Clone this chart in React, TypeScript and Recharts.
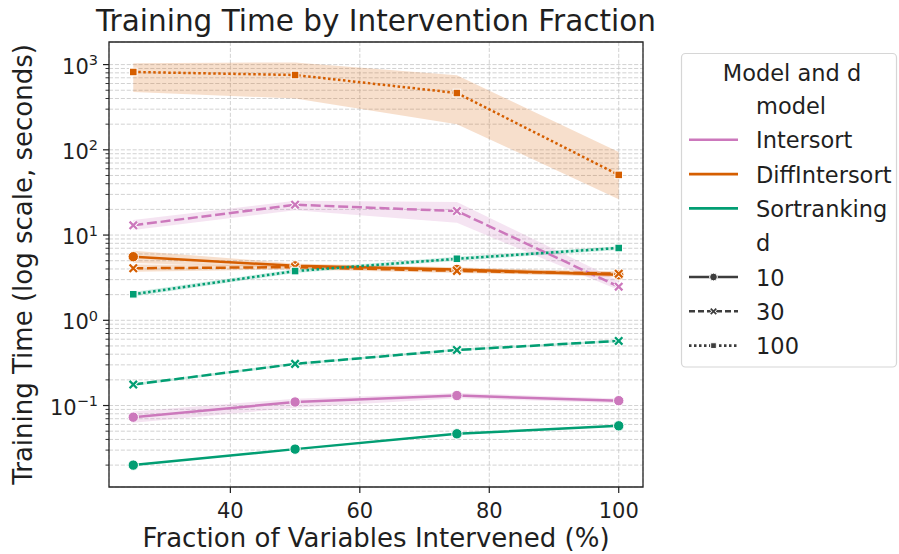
import React from 'react';
import {
  ComposedChart,
  Line,
  Area,
  XAxis,
  YAxis,
  CartesianGrid,
  ReferenceArea,
} from 'recharts';

// Fraction of variables intervened (%)
const fractions = [25, 50, 75, 100];

// Mean training time (seconds) and confidence band per model / d
const intersortD10 = [0.073, 0.11, 0.131, 0.114];
const intersortD10Lo = [0.063, 0.094, 0.122, 0.106];
const intersortD10Hi = [0.085, 0.12, 0.14, 0.121];

const intersortD30 = [13.0, 22.7, 19.1, 2.48];
const intersortD30Lo = [11.5, 19.6, 13.9, 2.27];
const intersortD30Hi = [15.0, 25.2, 24.5, 2.92];

const diffD10 = [5.57, 4.35, 3.95, 3.42];
const diffD10Lo = [4.7, 4.1, 3.7, 3.2];
const diffD10Hi = [6.55, 4.65, 4.2, 3.65];

const diffD30 = [4.08, 4.2, 3.8, 3.52];
const diffD30Lo = [3.7, 3.95, 3.6, 3.3];
const diffD30Hi = [4.5, 4.45, 4.05, 3.75];

const diffD100 = [819, 755, 464, 50.8];
const diffD100Lo = [477, 400, 200, 26.4];
const diffD100Hi = [1040, 1060, 752, 94];

const sortD10 = [0.02, 0.0308, 0.0466, 0.0578];
const sortD10Lo = [0.0196, 0.0302, 0.0457, 0.0566];
const sortD10Hi = [0.0204, 0.0314, 0.0475, 0.059];

const sortD30 = [0.176, 0.308, 0.449, 0.572];
const sortD30Lo = [0.17, 0.298, 0.435, 0.554];
const sortD30Hi = [0.182, 0.318, 0.463, 0.59];

const sortD100 = [2.02, 3.78, 5.27, 7.05];
const sortD100Lo = [1.9, 3.6, 5.0, 6.7];
const sortD100Hi = [2.15, 3.97, 5.55, 7.4];

const xTicks = [40, 60, 80, 100];
const X_MIN = 21.25;
const X_MAX = 103.75;
const Y_MIN = 0.01107;
const Y_MAX = 1841;

// Major (powers of ten) and minor log ticks inside the y range
const yTicks: number[] = [];
for (let k = -2; k <= 3; k++) {
  for (let m = 1; m <= 9; m++) {
    const v = Number((m * Math.pow(10, k)).toPrecision(3));
    if (v >= Y_MIN && v <= Y_MAX) yTicks.push(v);
  }
}

const PINK = '#cc78bc';
const ORANGE = '#d55e00';
const GREEN = '#029e73';
const INK = '#1f1f1f';
const FONT = "'DejaVu Sans', sans-serif";

type Marker = 'circle' | 'x' | 'square';

interface SeriesDef {
  key: string;
  color: string;
  mean: number[];
  lo: number[];
  hi: number[];
  marker: Marker;
  dash?: string;
}

const DASH_30 = '10 3.75';
const DOT_100 = '2.5 2.5';

const series: SeriesDef[] = [
  { key: 'i10', color: PINK, mean: intersortD10, lo: intersortD10Lo, hi: intersortD10Hi, marker: 'circle' },
  { key: 'i30', color: PINK, mean: intersortD30, lo: intersortD30Lo, hi: intersortD30Hi, marker: 'x', dash: DASH_30 },
  { key: 'f10', color: ORANGE, mean: diffD10, lo: diffD10Lo, hi: diffD10Hi, marker: 'circle' },
  { key: 'f30', color: ORANGE, mean: diffD30, lo: diffD30Lo, hi: diffD30Hi, marker: 'x', dash: DASH_30 },
  { key: 'f100', color: ORANGE, mean: diffD100, lo: diffD100Lo, hi: diffD100Hi, marker: 'square', dash: DOT_100 },
  { key: 's10', color: GREEN, mean: sortD10, lo: sortD10Lo, hi: sortD10Hi, marker: 'circle' },
  { key: 's30', color: GREEN, mean: sortD30, lo: sortD30Lo, hi: sortD30Hi, marker: 'x', dash: DASH_30 },
  { key: 's100', color: GREEN, mean: sortD100, lo: sortD100Lo, hi: sortD100Hi, marker: 'square', dash: DOT_100 },
];

const rows = fractions.map((x, i) => {
  const row: Record<string, any> = { x };
  series.forEach((s) => {
    row[s.key] = s.mean[i];
    row[s.key + 'Band'] = [s.lo[i], s.hi[i]];
  });
  return row;
});

function markerShape(kind: Marker, cx: number, cy: number, color: string, key?: string | number, scale = 1, edge = '#ffffff') {
  if (kind === 'circle') {
    return <circle key={key} cx={cx} cy={cy} r={5.2 * scale} fill={color} stroke={edge} strokeWidth={1} />;
  }
  if (kind === 'square') {
    const h = 3.8 * scale;
    return <rect key={key} x={cx - h} y={cy - h} width={2 * h} height={2 * h} fill={color} stroke={edge} strokeWidth={1} />;
  }
  const a = 3.7 * scale;
  return (
    <g key={key}>
      <path d={`M${cx - a},${cy - a}L${cx + a},${cy + a}M${cx - a},${cy + a}L${cx + a},${cy - a}`} stroke={edge} strokeWidth={4.2 * scale} />
      <path d={`M${cx - a},${cy - a}L${cx + a},${cy + a}M${cx - a},${cy + a}L${cx + a},${cy - a}`} stroke={color} strokeWidth={2.3 * scale} />
    </g>
  );
}

const Y_TICK_SIZE = 6;
const Y_TICK_MARGIN = 5;
const X_TICK_SIZE = 6;
const X_TICK_MARGIN = 5;

function LogTick(props: any) {
  const { x, y, payload } = props;
  const edge = x + Y_TICK_SIZE + Y_TICK_MARGIN;
  const v = payload.value as number;
  const exp = Math.log10(v);
  const rounded = Math.round(exp);
  const major = Math.abs(exp - rounded) < 1e-6;
  const expText = rounded < 0 ? '\u2212' + Math.abs(rounded) : String(rounded);
  return (
    <g>
      <line x1={edge - (major ? Y_TICK_SIZE : 3.5)} x2={edge} y1={y} y2={y} stroke={INK} strokeWidth={major ? 1.2 : 0.9} />
      {major && (
        <text x={x} y={y + 9} textAnchor="end" fontFamily={FONT} fontSize={21} fill={INK}>
          10
          <tspan dy={-8.5} fontSize={14.5}>{expText}</tspan>
        </text>
      )}
    </g>
  );
}

function XTick(props: any) {
  const { x, y, payload } = props;
  const top = y - X_TICK_SIZE - X_TICK_MARGIN;
  return (
    <g>
      <line x1={x} x2={x} y1={top} y2={top + X_TICK_SIZE} stroke={INK} strokeWidth={1.2} />
      <text x={x} y={y + 19.5} textAnchor="middle" fontFamily={FONT} fontSize={21} fill={INK}>
        {payload.value}
      </text>
    </g>
  );
}

const legendModels = [
  { name: 'Intersort', color: PINK },
  { name: 'DiffIntersort', color: ORANGE },
  { name: 'Sortranking', color: GREEN },
];
const legendStyles: { name: string; dash?: string; marker: Marker }[] = [
  { name: '10', marker: 'circle' },
  { name: '30', dash: '6 3', marker: 'x' },
  { name: '100', dash: '2.5 2.5', marker: 'square' },
];

function Overlay() {
  const rowStep = 34.3;
  const firstBase = 114;
  const textX = 756;
  const hx1 = 689;
  const hx2 = 738;
  const hGray = '#3d3d3d';
  const entries: React.ReactNode[] = [];
  let idx = 0;
  const base = (i: number) => firstBase + i * rowStep;

  entries.push(
    <text key="sub-model" x={textX} y={base(idx)} fontFamily={FONT} fontSize={22.5} fill={INK}>model</text>
  );
  idx++;
  legendModels.forEach((m) => {
    const b = base(idx);
    entries.push(
      <g key={m.name}>
        <line x1={hx1} x2={hx2} y1={b - 8.5} y2={b - 8.5} stroke={m.color} strokeWidth={2.6} />
        <text x={textX} y={b} fontFamily={FONT} fontSize={22.5} fill={INK}>{m.name}</text>
      </g>
    );
    idx++;
  });
  entries.push(
    <text key="sub-d" x={textX} y={base(idx)} fontFamily={FONT} fontSize={22.5} fill={INK}>d</text>
  );
  idx++;
  legendStyles.forEach((s) => {
    const b = base(idx);
    const cy = b - 8.5;
    entries.push(
      <g key={'d' + s.name}>
        <line x1={hx1} x2={hx2} y1={cy} y2={cy} stroke={hGray} strokeWidth={2.6} strokeDasharray={s.dash} />
        {markerShape(s.marker, (hx1 + hx2) / 2, cy, hGray, undefined, 0.75)}
        <text x={textX} y={b} fontFamily={FONT} fontSize={22.5} fill={INK}>{s.name}</text>
      </g>
    );
    idx++;
  });

  return (
    <svg
      width={899}
      height={554}
      style={{ position: 'absolute', left: 0, top: 0, pointerEvents: 'none' }}
    >
      <text x={376} y={30.5} textAnchor="middle" fontFamily={FONT} fontSize={29.5} fill={INK}>
        Training Time by Intervention Fraction
      </text>
      <text x={376} y={547} textAnchor="middle" fontFamily={FONT} fontSize={26} fill={INK}>
        Fraction of Variables Intervened (%)
      </text>
      <text
        transform="translate(31.5,264.5) rotate(-90)"
        textAnchor="middle"
        fontFamily={FONT}
        fontSize={26}
        fill={INK}
      >
        Training Time (log scale, seconds)
      </text>
      <rect x={681.5} y={53.5} width={215} height={313.5} rx={4} ry={4} fill="#ffffff" fillOpacity={0.8} stroke="#d6d6d6" strokeWidth={1.2} />
      <text x={792} y={80.7} textAnchor="middle" fontFamily={FONT} fontSize={22.5} fill={INK}>
        Model and d
      </text>
      {entries}
    </svg>
  );
}

export default function App() {
  return (
    <div style={{ position: 'absolute', left: 0, top: 0, width: 899, height: 554, background: '#ffffff' }}>
      <ComposedChart
        width={899}
        height={554}
        data={rows}
        margin={{ top: 42, right: 256, bottom: 0, left: 0 }}
      >
        <CartesianGrid
          stroke="#c6c6c6"
          strokeWidth={0.8}
          strokeDasharray="4.1 1.8"
          horizontal
          vertical
        />
        <XAxis
          dataKey="x"
          type="number"
          domain={[X_MIN, X_MAX]}
          ticks={xTicks}
          interval={0}
          allowDataOverflow
          height={67}
          tickSize={X_TICK_SIZE}
          tickMargin={X_TICK_MARGIN}
          tickLine={false}
          axisLine={false}
          tick={<XTick />}
        />
        <YAxis
          type="number"
          scale="log"
          domain={[Y_MIN, Y_MAX]}
          ticks={yTicks}
          interval={0}
          allowDataOverflow
          width={109}
          tickSize={Y_TICK_SIZE}
          tickMargin={Y_TICK_MARGIN}
          tickLine={false}
          axisLine={false}
          tick={<LogTick />}
        />
        {series.map((s) => (
          <Area
            key={s.key + 'Band'}
            type="linear"
            dataKey={s.key + 'Band'}
            stroke="none"
            fill={s.color}
            fillOpacity={0.2}
            isAnimationActive={false}
            dot={false}
            activeDot={false}
          />
        ))}
        {series.map((s) => (
          <Line
            key={s.key}
            type="linear"
            dataKey={s.key}
            stroke={s.color}
            strokeWidth={2.5}
            strokeDasharray={s.dash}
            isAnimationActive={false}
            activeDot={false}
            dot={(p: any) => markerShape(s.marker, p.cx, p.cy, s.color, `${s.key}-${p.index}`)}
          />
        ))}
        <ReferenceArea
          x1={X_MIN}
          x2={X_MAX}
          y1={Y_MIN}
          y2={Y_MAX}
          fill="none"
          stroke="#262626"
          strokeWidth={1.3}
          ifOverflow="visible"
        />
      </ComposedChart>
      <Overlay />
    </div>
  );
}
